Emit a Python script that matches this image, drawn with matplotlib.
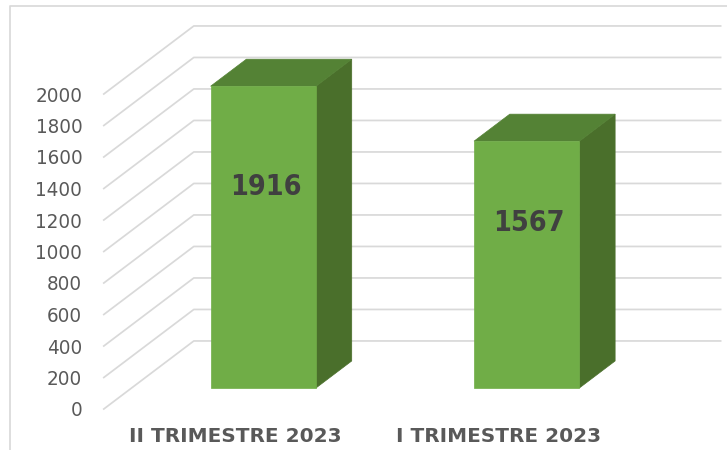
import matplotlib
matplotlib.use('Agg')
import matplotlib.pyplot as plt
from matplotlib.lines import Line2D
from matplotlib.patches import Polygon

# Datos del grafico
categorias = ['II TRIMESTRE 2023', 'I TRIMESTRE 2023']
valores = [1916, 1567]
ticks_y = [0, 200, 400, 600, 800, 1000, 1200, 1400, 1600, 1800, 2000]

ANCHO, ALTO = 727, 450

# Proyeccion oblicua: cuanto se desplaza un punto al ir al fondo de la caja
FONDO_X = 0.3417
FONDO_Y = 432
BARRA_FRENTE = 0.309
BARRA_ATRAS = 0.706
ANCHO_BARRA = 0.4

VERDE = '#70AD47'
VERDE_TAPA = '#548235'
VERDE_LADO = '#4A6F2B'
GRIS = '#D9D9D9'
FUENTE = 'DejaVu Sans'


def proyectar(x, y, prof):
    return x + prof * FONDO_X, y + prof * FONDO_Y


def cara(ax, puntos, color, z):
    pts = [proyectar(*p) for p in puntos]
    ax.add_patch(Polygon(pts, closed=True, facecolor=color, edgecolor=color,
                         linewidth=0.5, zorder=z, clip_on=False))


def barra(ax, centro, valor):
    x0 = centro - ANCHO_BARRA / 2
    x1 = centro + ANCHO_BARRA / 2
    f, a = BARRA_FRENTE, BARRA_ATRAS
    cara(ax, [(x1, 0, f), (x1, 0, a), (x1, valor, a), (x1, valor, f)], VERDE_LADO, 3)
    cara(ax, [(x0, valor, f), (x1, valor, f), (x1, valor, a), (x0, valor, a)], VERDE_TAPA, 3)
    cara(ax, [(x0, 0, f), (x1, 0, f), (x1, valor, f), (x0, valor, f)], VERDE, 4)
    # Etiqueta con el valor sobre la cara frontal
    tx, ty = proyectar(centro + 0.008, valor * 0.667, f)
    ax.text(tx, ty, str(valor), ha='center', va='center', fontsize=20.5,
            fontweight='bold', fontstretch='condensed', color='#404040',
            family=FUENTE, zorder=5)


fig = plt.figure(figsize=(ANCHO / 100, ALTO / 100), dpi=100, facecolor='white')
ax = fig.add_axes([103.8 / ANCHO, 41 / ALTO, 526.8 / ANCHO, 315 / ALTO])
ax.set_xlim(0, 2)
ax.set_ylim(0, 2000)
ax.patch.set_visible(False)
for s in ax.spines.values():
    s.set_visible(False)

# Lineas de la grilla: piso en diagonal y pared del fondo
for t in ticks_y:
    xs, ys = zip(proyectar(0, t, 0), proyectar(0, t, 1), proyectar(2, t, 1))
    ax.plot(xs, ys, color=GRIS, linewidth=1.25, zorder=1, clip_on=False)

for i, v in enumerate(valores):
    barra(ax, i + 0.5, v)

ax.set_yticks(ticks_y)
ax.set_xticks([i + 0.5 for i in range(len(categorias))])
ax.set_xticklabels(categorias, fontsize=14.4, fontweight='bold',
                   color='#595959', family=FUENTE)
ax.tick_params(axis='y', length=0, pad=15.5, labelsize=14.7, labelcolor='#595959')
ax.tick_params(axis='x', length=0, pad=13)
for lab in ax.get_yticklabels():
    lab.set_family(FUENTE)
    lab.set_fontstretch('condensed')
    lab.set_va('center_baseline')

# Marco exterior, solo arriba y a la izquierda
fig.add_artist(Line2D([10 / ANCHO, 10 / ANCHO, 1], [0, 1 - 5.5 / ALTO, 1 - 5.5 / ALTO],
                      color=GRIS, linewidth=1.25))

fig.savefig('out.png', dpi=100)
